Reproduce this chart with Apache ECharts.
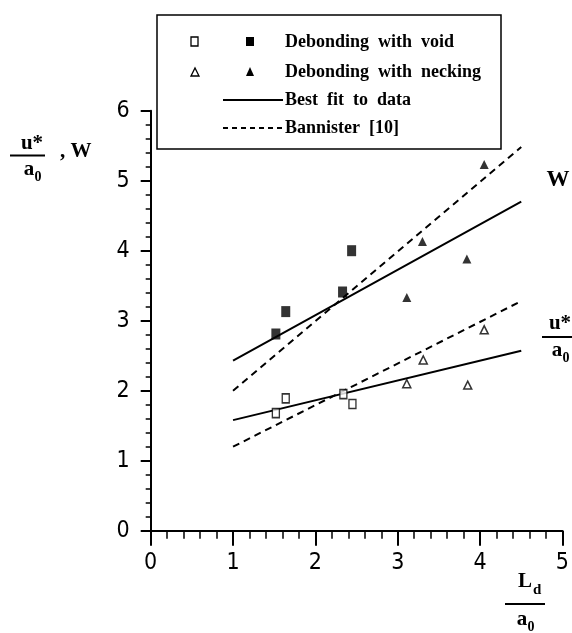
<!DOCTYPE html>
<html>
<head>
<meta charset="utf-8">
<script src="https://cdn.jsdelivr.net/npm/echarts@6/dist/echarts.min.js"></script>
<style>
  html, body { margin: 0; padding: 0; background: #fff; }
  #chart { width: 572px; height: 633px; }
</style>
</head>
<body>
<div id="chart"></div>
<script>
// data points
const voidOpen = [[1.52, 1.68], [1.64, 1.89], [2.34, 1.95], [2.45, 1.81]]
const voidFilled = [[1.52, 2.81], [1.64, 3.13], [2.33, 3.41], [2.44, 4.0]]
const neckOpen = [[3.11, 2.10], [3.31, 2.44], [3.85, 2.08], [4.05, 2.87]]
const neckFilled = [[3.11, 3.33], [3.30, 4.13], [3.84, 3.88], [4.05, 5.23]]

// best fit and Bannister lines (end points)
const fitW = [[1, 2.43], [4.5, 4.70]]
const fitU = [[1, 1.58], [4.5, 2.57]]
const banW = [[1, 2.0], [4.5, 5.48]]
const banU = [[1, 1.2], [4.5, 3.28]]

const xTicks = [0, 1, 2, 3, 4, 5]
const yTicks = [0, 1, 2, 3, 4, 5, 6]

const chart = echarts.init(document.getElementById('chart'))

const tickFont = { fontFamily: '"Liberation Sans Narrow", "DejaVu Sans Condensed", sans-serif', fontSize: 23, color: '#000' }
const serif = 'bold 18px "Liberation Serif"'
const bigSerif = 'bold 21px "Liberation Serif"'

// 三角形符号
const triPath = 'path://M0,10 L5,0 L10,10 Z'

function scatter(data, symbol, filled, size) {
  return {
    type: 'scatter',
    data,
    symbol,
    symbolSize: size,
    itemStyle: {
      color: filled ? '#000' : '#fff',
      borderColor: '#000',
      borderWidth: filled ? 0 : 1.5
    },
    z: 5
  }
}

function line(data, dashed) {
  return {
    type: 'line',
    data,
    symbol: 'none',
    lineStyle: { color: '#000', width: 2, type: dashed ? [7, 5] : 'solid' },
    z: 3
  }
}

// legend drawn by hand (box + two markers per row)
const legend = [
  { type: 'rect', shape: { x: 157, y: 15, width: 344, height: 134 },
    style: { fill: '#fff', stroke: '#000', lineWidth: 1.5 }, z: 10 },
  { type: 'rect', shape: { x: 191, y: 37, width: 7, height: 9 },
    style: { fill: '#fff', stroke: '#000', lineWidth: 1.3 }, z: 11 },
  { type: 'rect', shape: { x: 246, y: 37, width: 8, height: 9 },
    style: { fill: '#000' }, z: 11 },
  { type: 'polygon', shape: { points: [[191, 76], [195, 68], [199, 76]] },
    style: { fill: '#fff', stroke: '#000', lineWidth: 1.3 }, z: 11 },
  { type: 'polygon', shape: { points: [[246, 76], [250, 67], [254, 76]] },
    style: { fill: '#000' }, z: 11 },
  { type: 'line', shape: { x1: 223, y1: 100, x2: 283, y2: 100 },
    style: { stroke: '#000', lineWidth: 2 }, z: 11 },
  { type: 'line', shape: { x1: 223, y1: 128, x2: 283, y2: 128 },
    style: { stroke: '#000', lineWidth: 1.8, lineDash: [5, 4] }, z: 11 },
  { type: 'text', x: 285, y: 42, style: { text: 'Debonding  with  void', font: serif, fill: '#000', verticalAlign: 'middle' }, z: 11 },
  { type: 'text', x: 285, y: 72, style: { text: 'Debonding  with  necking', font: serif, fill: '#000', verticalAlign: 'middle' }, z: 11 },
  { type: 'text', x: 285, y: 100, style: { text: 'Best  fit  to  data', font: serif, fill: '#000', verticalAlign: 'middle' }, z: 11 },
  { type: 'text', x: 285, y: 128, style: { text: 'Bannister  [10]', font: serif, fill: '#000', verticalAlign: 'middle' }, z: 11 }
]

// axis titles and curve labels (fractions)
function fraction(cx, top, topText, bottom, sub, lineY, x1, x2) {
  return [
    { type: 'text', x: cx, y: top, style: { text: topText, font: bigSerif, fill: '#000', align: 'center', verticalAlign: 'middle' } },
    { type: 'line', shape: { x1, y1: lineY, x2, y2: lineY }, style: { stroke: '#000', lineWidth: 2 } },
    { type: 'text', x: cx - 3, y: bottom, style: { text: 'a', font: bigSerif, fill: '#000', align: 'center', verticalAlign: 'middle' } },
    { type: 'text', x: cx + 6, y: bottom + 7, style: { text: sub, font: 'bold 14px "Liberation Serif"', fill: '#000', align: 'center', verticalAlign: 'middle' } }
  ]
}

const titles = [
  ...fraction(32, 144, 'u*', 170, '0', 155.5, 10, 45),
  { type: 'text', x: 60, y: 152, style: { text: ', W', font: bigSerif, fill: '#000', verticalAlign: 'middle' } },
  { type: 'text', x: 558, y: 180, style: { text: 'W', font: 'bold 23px "Liberation Serif"', fill: '#000', align: 'center', verticalAlign: 'middle' } },
  ...fraction(560, 324, 'u*', 351, '0', 337, 542, 572),
  ...fraction(525, 582, 'L', 620, '0', 604, 505, 545),
  { type: 'text', x: 533, y: 590, style: { text: 'd', font: 'bold 15px "Liberation Serif"', fill: '#000', verticalAlign: 'middle' } }
]

chart.setOption({
  animation: false,
  backgroundColor: '#fff',
  grid: { left: 150.7, right: 6, top: 110.7, bottom: 102.3 },
  xAxis: {
    type: 'value',
    min: xTicks[0],
    max: xTicks[xTicks.length - 1],
    interval: 1,
    splitLine: { show: false },
    axisLine: { onZero: false, lineStyle: { color: '#000', width: 2 } },
    axisTick: { length: 15, lineStyle: { color: '#000', width: 2 } },
    minorTick: { show: true, splitNumber: 5, length: 8, lineStyle: { color: '#000', width: 1.5 } },
    axisLabel: { ...tickFont, margin: 21 }
  },
  yAxis: {
    type: 'value',
    min: yTicks[0],
    max: yTicks[yTicks.length - 1],
    interval: 1,
    splitLine: { show: false },
    axisLine: { show: true, onZero: false, lineStyle: { color: '#000', width: 2 } },
    axisTick: { show: true, length: 10, lineStyle: { color: '#000', width: 2 } },
    minorTick: { show: true, splitNumber: 5, length: 5, lineStyle: { color: '#000', width: 1.5 } },
    axisLabel: { ...tickFont, margin: 21 }
  },
  series: [
    line(fitW, false),
    line(fitU, false),
    line(banW, true),
    line(banU, true),
    scatter(voidOpen, 'rect', false, [7, 9]),
    scatter(voidFilled, 'rect', true, [9, 11]),
    scatter(neckOpen, triPath, false, [8, 8]),
    scatter(neckFilled, triPath, true, [9, 9])
  ],
  graphic: [...legend, ...titles]
})
</script>
</body>
</html>
